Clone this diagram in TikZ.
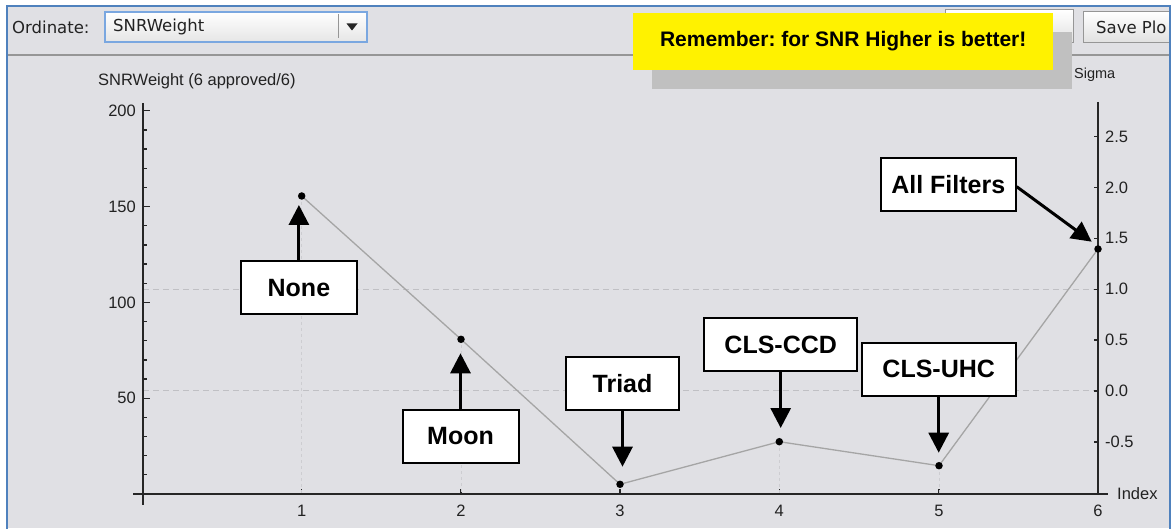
\documentclass[tikz,border=0pt]{standalone}
\usepackage{fontspec}
\setmainfont{Liberation Sans}
\newfontfamily\uifont{DejaVu Sans}
\usetikzlibrary{arrows.meta}
\frenchspacing
\definecolor{bg}{RGB}{224,224,228}
\definecolor{frameblue}{RGB}{79,129,189}
\definecolor{combob}{RGB}{122,167,224}
\definecolor{txt}{RGB}{34,34,34}
\definecolor{gridc}{RGB}{192,192,196}
\definecolor{faintc}{RGB}{205,205,209}
\definecolor{linec}{RGB}{165,165,165}
\definecolor{shadowc}{RGB}{192,192,192}
\definecolor{btnb}{RGB}{150,150,150}
\begin{document}
\begin{tikzpicture}[x=1pt,y=-1pt,
  annbox/.style={draw=black,line width=2pt,fill=white,minimum height=53pt,inner sep=0pt,
    font=\fontsize{25}{30}\selectfont\bfseries},
  annarrow/.style={line width=3pt,-{Triangle[width=20pt,length=20pt]}},
  dot/.style={circle,fill=black,inner sep=0pt,minimum size=7.5pt},
  ticklab/.style={font=\fontsize{16.5}{19}\selectfont,text=txt,inner sep=0pt},
  axisline/.style={line width=1.8pt,draw=black!85},
  uitext/.style={font=\uifont\fontsize{16.5}{20}\selectfont,text=txt,inner sep=0pt},
  btn/.style={draw=btnb,line width=1pt,top color=white,bottom color=black!12}
]
\useasboundingbox (0,0) rectangle (1176,529);
\fill[white] (0,0) rectangle (1176,529);
\fill[bg] (7,6) rectangle (1170,528);

% ---------- toolbar ----------
\node[uitext,anchor=west] (ordl) at (12,27) {Ordinate:};
\node[draw=combob,line width=1.6pt,top color=white,bottom color=black!10,
      minimum width=262pt,minimum height=30pt,anchor=north west,inner sep=0pt] (combo) at (104,11) {};
\node[uitext,anchor=west] (combot) at (113,27) {SNRWeight};
\draw[btnb,line width=0.8pt] (338,14) -- (338,38);
\fill[black!85] (346.5,23.5) -- (357.5,23.5) -- (352,30.5) -- cycle;

\draw[btn] (945,10) rectangle (1073,43);
\begin{scope}
  \clip (7,6) rectangle (1170,528);
  \draw[btn] (1083,12) rectangle (1200,43);
  \node[uitext,anchor=west] (save) at (1096,27) {Save Plo};
\end{scope}
\draw[btnb,line width=1.3pt] (7,55) -- (1170,55);

% ---------- note ----------
\fill[shadowc] (652,32) rectangle (1072,89);
\node[fill=yellow,minimum width=420pt,minimum height=57.3pt,anchor=north west,inner sep=0pt,
      font=\fontsize{21}{24}\selectfont\bfseries] (note) at (633,12.7)
      {Remember: for SNR Higher is better!};

% ---------- axis titles ----------
\node[font=\fontsize{16.5}{20}\selectfont,text=txt,inner sep=0pt,anchor=west] (ytitle) at (98,81) {SNRWeight (6 approved/6)};
\node[font=\fontsize{14.5}{18}\selectfont,text=txt,inner sep=0pt,anchor=west] (sigma) at (1074,75) {Sigma};
\node[ticklab,anchor=west] (index) at (1117,494) {Index};

% ---------- grid ----------
\draw[gridc,line width=1pt,dash pattern=on 6pt off 4pt] (143,290) -- (1098,290);
\draw[gridc,line width=1pt,dash pattern=on 6pt off 4pt] (143,391) -- (1098,391);

% ---------- left axis ----------
\draw[axisline] (142.7,103) -- (142.7,505);
\foreach \v in {10,20,...,200}{
  \draw[line width=1.3pt,black!85] (142.7,{494-\v*1.916}) -- ++(4.5,0);
}
\foreach \v in {50,100,150,200}{
  \draw[line width=1.3pt,black!85] (142.7,{494-\v*1.916}) -- ++(7,0);
  \node[ticklab,anchor=east] at (136,{494-\v*1.916}) {\v};
}

% ---------- right axis ----------
\draw[axisline] (1098,102) -- (1098,494);
\foreach \s/\l in {2.5/2.5,2.0/2.0,1.5/1.5,1.0/1.0,0.5/0.5,0.0/0.0,-0.5/-0.5}{
  \draw[line width=1.3pt,black!85] (1098,{391-\s*101.8}) -- ++(-4,0);
  \node[ticklab,anchor=west] at (1105,{391-\s*101.8}) {\l};
}

% ---------- x axis ----------
\draw[axisline] (133,494) -- (1108,494);
\foreach \i/\xx in {1/301.7,2/461,3/620,4/779.3,5/939,6/1098}{
  \draw[line width=1.3pt,black!85] (\xx,494) -- ++(0,-5);
  \node[ticklab] at (\xx,511) {\i};
}

% ---------- data ----------
\coordinate (c1) at (301.7,196);
\coordinate (c2) at (461,339.3);
\coordinate (c3) at (620,484.3);
\coordinate (c4) at (779.3,441.7);
\coordinate (c5) at (939,465.7);
\coordinate (c6) at (1098,249);
\foreach \k in {1,2,4,5}{
  \draw[faintc,line width=0.8pt,dash pattern=on 3pt off 3pt] (c\k) -- (c\k |- 0,494);
}
\draw[linec,line width=1.3pt] (c1) -- (c2) -- (c3) -- (c4) -- (c5) -- (c6);
\foreach \k in {1,...,6}{ \node[dot] (p\k) at (c\k) {}; }

% ---------- annotations ----------
\node[annbox,minimum width=116pt] (none)  at (298.9,288)   {None};
\node[annbox,minimum width=116pt] (moon)  at (460.5,436)   {Moon};
\node[annbox,minimum width=113pt] (triad) at (622.5,383.3) {Triad};
\node[annbox,minimum width=153pt] (ccd)   at (780.7,345)   {CLS-CCD};
\node[annbox,minimum width=154pt] (uhc)   at (938.7,369.2) {CLS-UHC};
\node[annbox,minimum width=135pt] (allf)  at (948.2,184.2) {All Filters};

\coordinate (t1) at (298.9,205);
\coordinate (t2) at (460.5,353.3);
\coordinate (t3) at (622.5,466.7);
\coordinate (t4) at (780.7,428);
\coordinate (t5) at (938.7,452.7);
\coordinate (t6) at (1091.7,241.7);
\draw[annarrow] (none.north) -- (t1);
\draw[annarrow] (moon.north) -- (t2);
\draw[annarrow] (triad.south) -- (t3);
\draw[annarrow] (ccd.south) -- (t4);
\draw[annarrow] (uhc.south) -- (t5);
\draw[annarrow] ([yshift=-2.5pt]allf.east) -- (t6);

% ---------- frame ----------
\draw[frameblue,line width=2pt] (7,529) -- (7,6) -- (1170,6) -- (1170,529);
\end{tikzpicture}
\end{document}
